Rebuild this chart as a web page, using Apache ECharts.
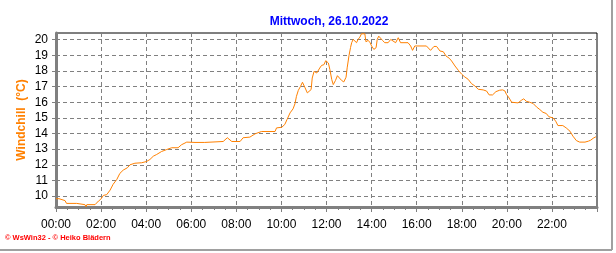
<!DOCTYPE html>
<html><head><meta charset="utf-8">
<script src="https://cdn.jsdelivr.net/npm/echarts@6/dist/echarts.min.js"></script>
<style>html,body{margin:0;padding:0;background:#fff}#c{width:616px;height:253px}</style>
</head><body><div id="c"></div>
<script>
const titleText = 'Mittwoch, 26.10.2022';
const yName = 'Windchill  (°C)';
const footer = '© WsWin32 - © Heiko Blädern';
const yTicks = [10, 11, 12, 13, 14, 15, 16, 17, 18, 19, 20];
const xTickLabels = ['00:00','02:00','04:00','06:00','08:00','10:00','12:00','14:00','16:00','18:00','20:00','22:00'];
// minutes since midnight
const minutes = [0,8,11,24,28,55,57,77,80,82,104,106,113,119,126,135,144,152,162,170,179,190,197,210,228,241,250,259,268,281,295,308,325,334,348,370,396,401,445,456,468,490,498,516,530,547,583,587,601,609,615,623,631,636,640,645,651,656,663,669,674,679,682,687,694,702,707,713,718,725,729,734,738,744,749,754,760,766,772,775,780,784,787,791,796,800,804,809,813,822,825,831,836,840,846,852,855,859,864,869,875,884,891,897,904,911,917,937,944,949,955,986,997,1006,1013,1022,1031,1038,1047,1053,1062,1071,1080,1088,1097,1106,1115,1124,1137,1146,1153,1162,1171,1181,1189,1195,1199,1204,1213,1230,1239,1245,1252,1261,1270,1279,1288,1296,1305,1312,1323,1330,1336,1349,1358,1368,1376,1385,1394,1408,1417,1423,1430,1437];
const windchill = [9.83,9.83,9.71,9.71,9.53,9.53,9.45,9.45,9.32,9.45,9.45,9.53,9.68,9.79,10.04,10.09,10.38,10.75,11.07,11.45,11.66,11.81,12.0,12.1,12.13,12.21,12.34,12.55,12.66,12.85,12.98,13.09,13.09,13.28,13.45,13.43,13.43,13.49,13.49,13.73,13.49,13.49,13.73,13.77,13.98,14.13,14.13,14.36,14.4,14.58,14.9,15.32,15.58,15.9,16.38,16.76,17.02,17.28,16.92,16.6,16.49,16.81,17.55,17.98,17.87,18.19,18.36,18.4,18.66,18.51,18.09,17.45,17.13,17.4,17.7,17.62,17.4,17.3,17.6,18.2,19.0,19.5,19.81,20.02,19.96,19.81,20.02,20.17,20.38,20.38,19.87,19.96,19.81,19.6,19.38,19.49,20.02,20.23,20.17,19.96,19.81,19.81,20.02,19.92,19.81,20.13,19.81,19.81,19.6,19.32,19.6,19.6,19.32,19.57,19.57,19.28,19.23,18.96,18.81,18.64,18.32,18.04,17.79,17.62,17.47,17.19,17.04,16.83,16.79,16.72,16.47,16.47,16.68,16.77,16.79,16.72,16.5,16.35,16.0,15.96,16.13,16.22,16.06,16.0,15.92,15.7,15.53,15.36,15.28,15.07,15.0,14.79,14.51,14.51,14.36,14.15,13.83,13.55,13.45,13.45,13.51,13.57,13.7,13.79];

const chart = echarts.init(document.getElementById('c'), null, {renderer: 'canvas'});
const pts = minutes.map((m, i) => [m, windchill[i]]);
const font = 'Liberation Sans, Arial, sans-serif';
chart.setOption({
  animation: false,
  backgroundColor: '#fff',
  title: {
    text: titleText, left: 324, top: 11, textAlign: 'center',
    textStyle: {color: '#0000ff', fontSize: 12, fontWeight: 'bold', fontFamily: font}
  },
  grid: {left: 56, right: 19, top: 33, bottom: 46, show: true, borderColor: '#000', borderWidth: 1, backgroundColor: '#fff'},
  xAxis: {
    type: 'value', min: 0, max: 1440, interval: 120,
    axisLine: {show: true, onZero: false, lineStyle: {color: '#808080', width: 3}},
    axisTick: {show: true, length: 5, lineStyle: {color: '#808080', width: 1}},
    minorTick: {show: true, splitNumber: 4, length: 3, lineStyle: {color: '#808080', width: 1}},
    axisLabel: {color: '#000', fontSize: 12, fontFamily: font, margin: 12,
      formatter: v => (v < 1440 ? xTickLabels[v / 120] : '')},
    splitLine: {show: true, lineStyle: {color: '#808080', type: [4, 3], width: 1}}
  },
  yAxis: {
    type: 'value', min: 9.3, max: 20.43,
    name: yName, nameLocation: 'middle', nameGap: 28, nameRotate: 90, nameMoveOverlap: false,
    nameTextStyle: {color: '#ff8000', fontSize: 12, fontWeight: 'bold', fontFamily: font},
    axisLine: {show: true, lineStyle: {color: '#808080', width: 3}},
    axisTick: {show: true, length: 4, customValues: yTicks, lineStyle: {color: '#808080'}},
    axisLabel: {color: '#000', fontSize: 12, fontFamily: font, margin: 8, customValues: yTicks},
    splitLine: {show: true, customValues: yTicks, lineStyle: {color: '#808080', type: [4, 3], width: 1}}
  },
  graphic: [
    {type: 'text', left: 5, top: 234, style: {text: footer, fill: '#ff0000', font: 'bold 7.5px ' + font}},
    {type: 'line', shape: {x1: 612, y1: 0, x2: 612, y2: 250}, style: {stroke: '#a0a0a0', lineWidth: 2}},
    {type: 'line', shape: {x1: 0, y1: 250, x2: 612, y2: 250}, style: {stroke: '#a0a0a0', lineWidth: 2}}
  ],
  series: [{
    type: 'line', data: pts, showSymbol: false, symbol: 'none',
    lineStyle: {color: '#ff8000', width: 1}, silent: true
  }]
});
</script></body></html>
